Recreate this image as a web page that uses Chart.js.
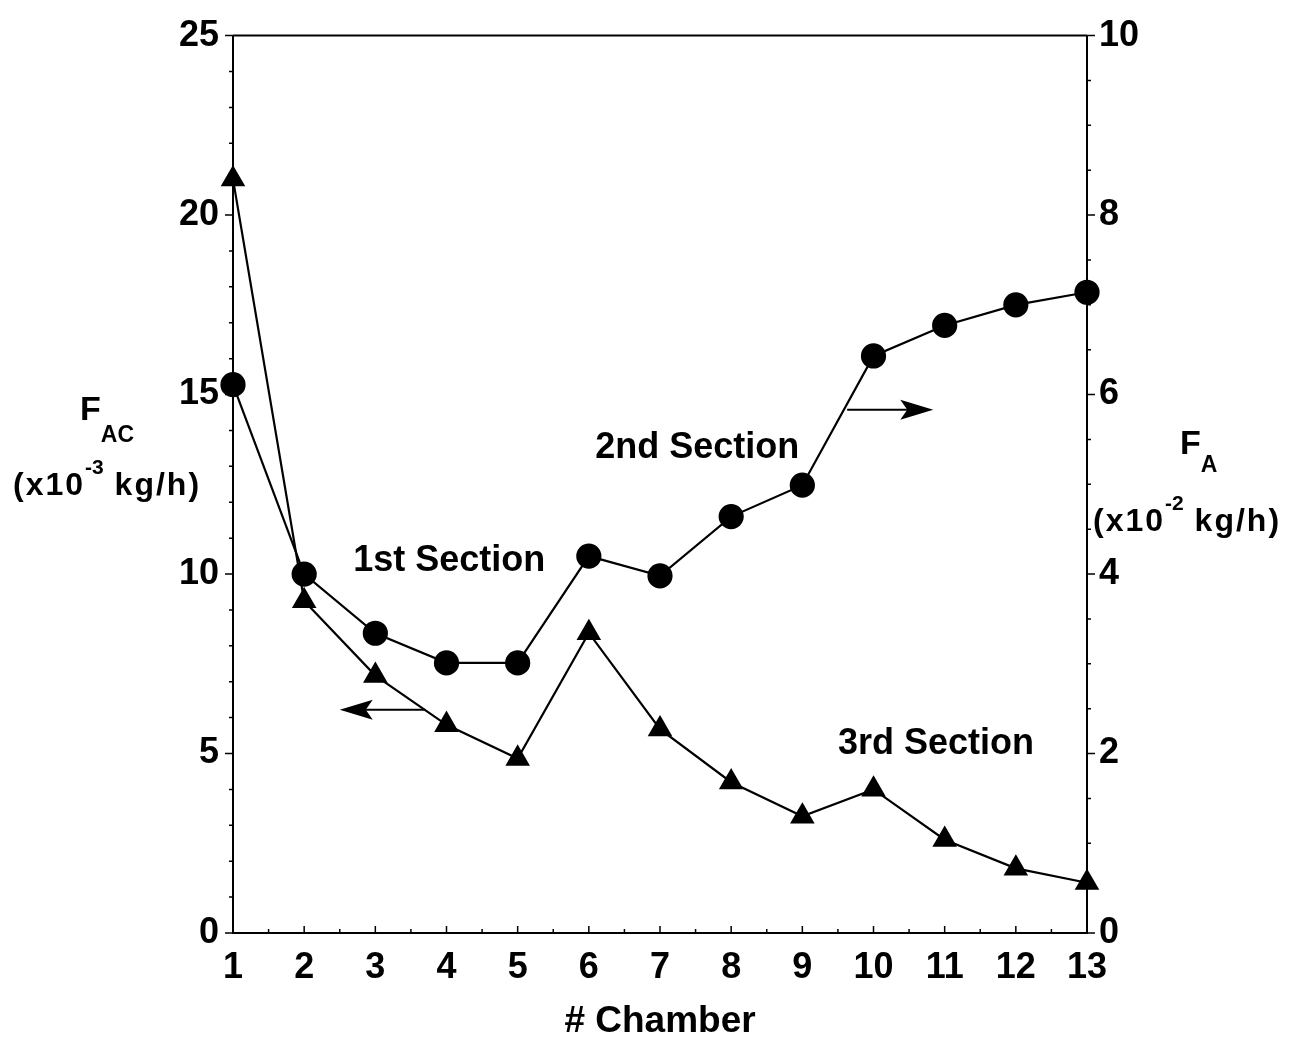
<!DOCTYPE html>
<html>
<head>
<meta charset="utf-8">
<script src="https://cdn.jsdelivr.net/npm/chart.js@4.4.1/dist/chart.umd.min.js"></script>
<style>
  html, body { margin: 0; padding: 0; background: #fff; }
  #wrap { width: 1301px; height: 1044px; }
</style>
</head>
<body>
<div id="wrap"><canvas id="chart"></canvas></div>
<script>
// chamber number along the x axis
const chambers = [1, 2, 3, 4, 5, 6, 7, 8, 9, 10, 11, 12, 13];
// F_AC (x10^-3 kg/h), triangles, left axis
const fAC = [21.0, 9.25, 7.17, 5.8, 4.86, 8.36, 5.68, 4.2, 3.25, 4.0, 2.6, 1.8, 1.4];
// F_A (x10^-2 kg/h), circles, right axis
const fA = [6.11, 4.0, 3.34, 3.01, 3.01, 4.2, 3.98, 4.64, 4.99, 6.43, 6.77, 7.0, 7.14];
const leftTicks = [0, 5, 10, 15, 20, 25];
const rightTicks = [0, 2, 4, 6, 8, 10];
const sectionNames = ['1st Section', '2nd Section', '3rd Section'];

const FONT = '"Liberation Sans", Arial, sans-serif';

function runs(ctx, x, y, parts) {
  // draws text pieces one after the other (for sub/superscripts)
  parts.forEach(p => {
    ctx.font = 'bold ' + p[1] + 'px ' + FONT;
    ctx.letterSpacing = p[3] || '0px';
    ctx.fillText(p[0], x, y + p[2]);
    x += ctx.measureText(p[0]).width;
  });
  ctx.letterSpacing = '0px';
}

function arrow(ctx, x0, x1, y) {
  const dir = x1 > x0 ? 1 : -1;
  ctx.beginPath();
  ctx.moveTo(x0, y);
  ctx.lineTo(x1 - dir * 20, y);
  ctx.stroke();
  ctx.beginPath();
  ctx.moveTo(x1, y);
  ctx.lineTo(x1 - dir * 33, y - 10);
  ctx.lineTo(x1 - dir * 26, y);
  ctx.lineTo(x1 - dir * 33, y + 10);
  ctx.closePath();
  ctx.fill();
}

const extras = {
  id: 'extras',
  afterDraw(chart) {
    const ctx = chart.ctx;
    const { x, y, y1 } = chart.scales;
    const a = chart.chartArea;
    ctx.save();
    ctx.strokeStyle = '#000';
    ctx.fillStyle = '#000';

    // top frame line
    ctx.lineWidth = 2;
    ctx.beginPath();
    ctx.moveTo(a.left, a.top);
    ctx.lineTo(a.right, a.top);
    ctx.stroke();

    // axis ticks
    ctx.lineWidth = 1.5;
    ctx.beginPath();
    for (let v = 0; v <= 25; v++) {
      const py = y.getPixelForValue(v);
      const len = v % 5 === 0 ? 8 : 4;
      ctx.moveTo(a.left - len, py);
      ctx.lineTo(a.left, py);
    }
    for (let v = 0; v <= 10; v += 0.5) {
      const py = y1.getPixelForValue(v);
      const len = v % 2 === 0 ? 8 : 4;
      ctx.moveTo(a.right, py);
      ctx.lineTo(a.right + len, py);
    }
    for (let v = 1; v <= 13; v += 0.5) {
      const px = x.getPixelForValue(v);
      const len = v % 1 === 0 ? 7 : 4;
      ctx.moveTo(px, a.bottom);
      ctx.lineTo(px, a.bottom - len);
    }
    ctx.stroke();

    // section labels
    ctx.font = 'bold 36px ' + FONT;
    ctx.textAlign = 'left';
    ctx.textBaseline = 'alphabetic';
    ctx.fillText(sectionNames[0], x.getPixelForValue(2.69), y.getPixelForValue(10.08));
    ctx.fillText(sectionNames[1], x.getPixelForValue(6.09), y.getPixelForValue(13.22));
    ctx.fillText(sectionNames[2], x.getPixelForValue(9.5), y.getPixelForValue(5.0));

    // arrows pointing to the axis of each curve
    ctx.lineWidth = 2;
    arrow(ctx, x.getPixelForValue(3.7), x.getPixelForValue(2.5), y.getPixelForValue(6.22));
    arrow(ctx, x.getPixelForValue(9.63), x.getPixelForValue(10.84), y1.getPixelForValue(5.83));

    // axis titles
    runs(ctx, a.left - 153, y.getPixelForValue(14.3), [['F', 34, 0], ['AC', 23, 22]]);
    runs(ctx, a.left - 220, y.getPixelForValue(12.2), [['(x10', 32, 0, '2px'], ['-3', 21, -21], [' kg/h)', 32, 0, '2px']]);
    runs(ctx, a.right + 93, y1.getPixelForValue(5.34), [['F', 34, 0], ['A', 23, 18]]);
    runs(ctx, a.right + 6, y1.getPixelForValue(4.48), [['(x10', 32, 0, '2px'], ['-2', 21, -21], [' kg/h)', 32, 0, '2px']]);
    ctx.restore();
  }
};

const tickFont = { family: FONT, size: 36, weight: 'bold' };

new Chart(document.getElementById('chart'), {
  type: 'line',
  data: {
    datasets: [
      {
        label: 'F_AC',
        data: chambers.map((c, i) => ({ x: c, y: fAC[i] })),
        yAxisID: 'y',
        pointStyle: 'triangle',
        pointRadius: 12,
        borderColor: '#000',
        backgroundColor: '#000',
        borderWidth: 2.2,
        tension: 0,
        clip: false
      },
      {
        label: 'F_A',
        data: chambers.map((c, i) => ({ x: c, y: fA[i] })),
        yAxisID: 'y1',
        pointStyle: 'circle',
        pointRadius: 11.5,
        borderColor: '#000',
        backgroundColor: '#000',
        borderWidth: 2.2,
        tension: 0,
        clip: false
      }
    ]
  },
  options: {
    responsive: true,
    maintainAspectRatio: false,
    animation: false,
    devicePixelRatio: 1,
    layout: { padding: { top: 33, left: 0, right: 0, bottom: 0 } },
    plugins: {
      legend: { display: false },
      tooltip: { enabled: false }
    },
    scales: {
      x: {
        type: 'linear',
        min: 1,
        max: 13,
        afterBuildTicks: s => { s.ticks = chambers.map(v => ({ value: v })); },
        afterFit: s => { s.height = 111; },
        grid: { drawOnChartArea: false, drawTicks: false },
        border: { display: true, color: '#000', width: 2 },
        ticks: { color: '#000', font: tickFont, padding: 13, maxRotation: 0 },
        title: {
          display: true,
          text: '# Chamber',
          color: '#000',
          font: { family: FONT, size: 37, weight: 'bold' },
          padding: { top: 0, bottom: 0 }
        }
      },
      y: {
        position: 'left',
        min: 0,
        max: 25,
        afterBuildTicks: s => { s.ticks = leftTicks.map(v => ({ value: v })); },
        afterFit: s => { s.width = 233; },
        grid: { drawOnChartArea: false, drawTicks: false },
        border: { display: true, color: '#000', width: 2 },
        ticks: { color: '#000', font: tickFont, padding: 14 }
      },
      y1: {
        position: 'right',
        min: 0,
        max: 10,
        afterBuildTicks: s => { s.ticks = rightTicks.map(v => ({ value: v })); },
        afterFit: s => { s.width = 214; },
        grid: { drawOnChartArea: false, drawTicks: false },
        border: { display: true, color: '#000', width: 2 },
        ticks: { color: '#000', font: tickFont, padding: 12 }
      }
    }
  },
  plugins: [extras]
});
</script>
</body>
</html>
